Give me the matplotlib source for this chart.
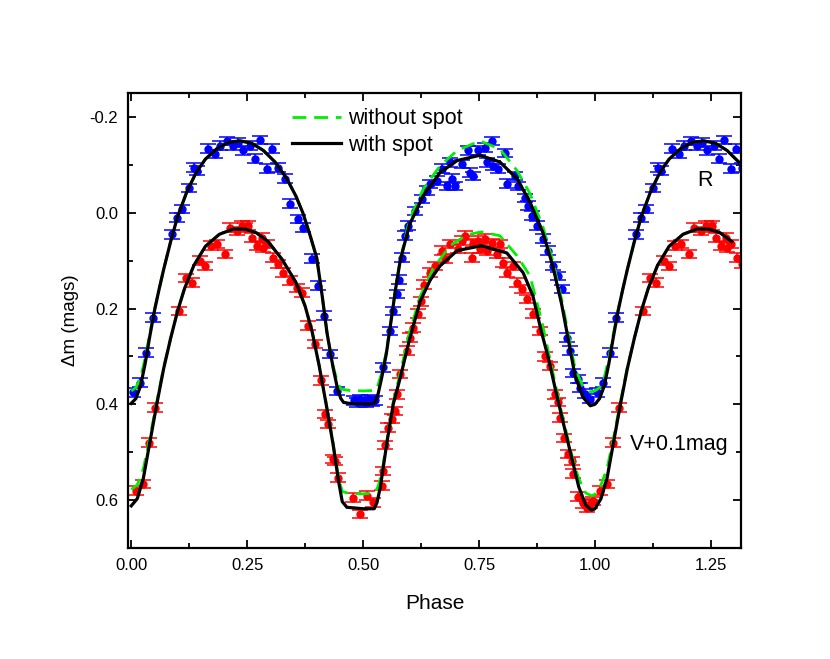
import numpy as np
import matplotlib
matplotlib.use('Agg')
import matplotlib.pyplot as plt
from matplotlib.ticker import MultipleLocator
from matplotlib.lines import Line2D

plt.rcParams['font.family'] = ['Liberation Sans', 'DejaVu Sans']

# ---- model curves, phase 0..1 ----
# R band, with spot
ph_R_spot = [0.000, 0.010, 0.020, 0.030, 0.040, 0.050, 0.060, 0.070, 0.085, 0.100,
             0.120, 0.140, 0.160, 0.185, 0.210, 0.235, 0.260, 0.285, 0.310, 0.335,
             0.355, 0.370, 0.385, 0.400, 0.412, 0.422, 0.435, 0.445, 0.452, 0.458,
             0.470, 0.500, 0.520, 0.526, 0.532, 0.540, 0.550, 0.560, 0.570, 0.580,
             0.600, 0.630, 0.666, 0.703, 0.752, 0.795, 0.832, 0.860, 0.888, 0.909,
             0.928, 0.942, 0.957, 0.974, 0.990, 1.000]
R_spot = [0.398, 0.388, 0.362, 0.315, 0.258, 0.205, 0.160, 0.118, 0.060, 0.008,
          -0.044, -0.084, -0.112, -0.134, -0.147, -0.150, -0.145, -0.130, -0.106, -0.072,
          -0.035, 0.000, 0.045, 0.094, 0.175, 0.250, 0.322, 0.368, 0.388, 0.396,
          0.398, 0.399, 0.399, 0.396, 0.380, 0.345, 0.295, 0.228, 0.160, 0.100,
          0.025, -0.036, -0.084, -0.109, -0.120, -0.106, -0.071, -0.022, 0.042, 0.111,
          0.190, 0.262, 0.340, 0.385, 0.403, 0.400]

# R band, without spot
ph_R_nospot = [0.000, 0.010, 0.020, 0.030, 0.040, 0.050, 0.060, 0.070, 0.085, 0.100,
               0.120, 0.140, 0.160, 0.185, 0.210, 0.235, 0.260, 0.285, 0.310, 0.335,
               0.355, 0.370, 0.385, 0.400, 0.412, 0.422, 0.435, 0.445, 0.452, 0.470,
               0.500, 0.525, 0.532, 0.540, 0.550, 0.560, 0.570, 0.580, 0.600, 0.630,
               0.666, 0.703, 0.752, 0.795, 0.832, 0.860, 0.888, 0.909, 0.928, 0.942,
               0.957, 0.974, 0.990, 1.000]
R_nospot = [0.372, 0.365, 0.345, 0.303, 0.252, 0.202, 0.160, 0.118, 0.060, 0.008,
            -0.044, -0.084, -0.112, -0.134, -0.147, -0.150, -0.145, -0.130, -0.106, -0.072,
            -0.035, 0.000, 0.045, 0.094, 0.175, 0.248, 0.318, 0.355, 0.368, 0.371,
            0.372, 0.371, 0.360, 0.335, 0.290, 0.225, 0.158, 0.098, 0.015, -0.050,
            -0.098, -0.130, -0.150, -0.133, -0.088, -0.040, 0.030, 0.100, 0.180, 0.250,
            0.325, 0.362, 0.374, 0.372]

# V band (+0.1 mag), with spot
ph_V_spot = [0.000, 0.013, 0.026, 0.040, 0.055, 0.070, 0.085, 0.100, 0.115, 0.135,
             0.160, 0.190, 0.220, 0.245, 0.270, 0.295, 0.325, 0.355, 0.375, 0.390,
             0.405, 0.420, 0.435, 0.447, 0.455, 0.465, 0.500, 0.524, 0.530, 0.537,
             0.552, 0.565, 0.580, 0.600, 0.623, 0.645, 0.666, 0.703, 0.755, 0.810,
             0.845, 0.866, 0.885, 0.900, 0.915, 0.930, 0.950, 0.965, 0.980, 0.993,
             1.000]
V_spot = [0.612, 0.597, 0.555, 0.480, 0.400, 0.325, 0.262, 0.205, 0.158, 0.110,
          0.070, 0.045, 0.034, 0.034, 0.042, 0.060, 0.097, 0.145, 0.195, 0.248,
          0.318, 0.398, 0.482, 0.560, 0.603, 0.615, 0.618, 0.618, 0.605, 0.574,
          0.476, 0.400, 0.345, 0.265, 0.185, 0.140, 0.111, 0.079, 0.069, 0.084,
          0.125, 0.173, 0.250, 0.305, 0.370, 0.432, 0.512, 0.572, 0.610, 0.621,
          0.618]

# V band (+0.1 mag), without spot
ph_V_nospot = [0.000, 0.013, 0.026, 0.040, 0.055, 0.070, 0.085, 0.100, 0.115, 0.135,
               0.160, 0.190, 0.220, 0.245, 0.270, 0.295, 0.325, 0.355, 0.375, 0.390,
               0.405, 0.420, 0.435, 0.447, 0.455, 0.470, 0.500, 0.525, 0.532, 0.540,
               0.552, 0.565, 0.580, 0.600, 0.623, 0.651, 0.687, 0.724, 0.755, 0.795,
               0.832, 0.860, 0.885, 0.900, 0.915, 0.930, 0.950, 0.965, 0.980, 0.993,
               1.000]
V_nospot = [0.578, 0.568, 0.535, 0.470, 0.395, 0.322, 0.262, 0.205, 0.158, 0.110,
            0.070, 0.045, 0.034, 0.034, 0.042, 0.060, 0.097, 0.145, 0.195, 0.248,
            0.318, 0.396, 0.478, 0.553, 0.582, 0.586, 0.587, 0.585, 0.572, 0.545,
            0.472, 0.395, 0.335, 0.250, 0.175, 0.117, 0.069, 0.046, 0.040, 0.048,
            0.090, 0.132, 0.225, 0.292, 0.360, 0.425, 0.505, 0.555, 0.585, 0.591,
            0.588]

# ---- observations, phase 0..1 ----
ph_R_obs = [0.004, 0.018, 0.032, 0.046, 0.088, 0.099, 0.110, 0.125, 0.136, 0.142,
            0.166, 0.181, 0.192, 0.207, 0.220, 0.231, 0.241, 0.256, 0.267, 0.278,
            0.293, 0.304, 0.317, 0.332, 0.343, 0.360, 0.371, 0.390, 0.403, 0.416,
            0.429, 0.444, 0.480, 0.487, 0.494, 0.500, 0.507, 0.513, 0.520, 0.526,
            0.543, 0.558, 0.565, 0.573, 0.577, 0.584, 0.590, 0.597, 0.612, 0.627,
            0.638, 0.644, 0.659, 0.670, 0.681, 0.687, 0.692, 0.698, 0.713, 0.726,
            0.731, 0.737, 0.748, 0.763, 0.767, 0.778, 0.780, 0.791, 0.806, 0.810,
            0.828, 0.834, 0.849, 0.856, 0.864, 0.875, 0.888, 0.899, 0.909, 0.920,
            0.929, 0.940, 0.946, 0.953, 0.963, 0.968, 0.978, 0.990]
R_obs = [0.375, 0.355, 0.292, 0.219, 0.045, 0.010, -0.008, -0.052, -0.094, -0.088,
         -0.134, -0.123, -0.140, -0.150, -0.140, -0.146, -0.130, -0.140, -0.113, -0.152,
         -0.092, -0.134, -0.094, -0.071, -0.019, 0.013, 0.031, 0.096, 0.152, 0.215,
         0.295, 0.372, 0.392, 0.396, 0.390, 0.393, 0.397, 0.390, 0.394, 0.392,
         0.323, 0.247, 0.205, 0.170, 0.140, 0.094, 0.048, 0.027, -0.004, -0.029,
         -0.046, -0.060, -0.067, -0.092, -0.056, -0.105, -0.071, -0.056, -0.102, -0.130,
         -0.084, -0.077, -0.130, -0.136, -0.105, -0.150, -0.098, -0.092, -0.125, -0.061,
         -0.077, -0.056, -0.031, -0.015, 0.006, 0.027, 0.054, 0.079, 0.111, 0.132,
         0.159, 0.261, 0.288, 0.335, 0.347, 0.365, 0.378, 0.388]

ph_V_obs = [0.011, 0.026, 0.039, 0.052, 0.104, 0.119, 0.131, 0.149, 0.159, 0.172,
            0.185, 0.203, 0.213, 0.228, 0.239, 0.246, 0.252, 0.261, 0.272, 0.282,
            0.284, 0.293, 0.306, 0.317, 0.328, 0.343, 0.358, 0.369, 0.381, 0.397,
            0.410, 0.418, 0.424, 0.435, 0.440, 0.446, 0.479, 0.494, 0.508, 0.522,
            0.541, 0.543, 0.547, 0.554, 0.562, 0.569, 0.573, 0.580, 0.595, 0.601,
            0.608, 0.619, 0.625, 0.632, 0.644, 0.655, 0.670, 0.677, 0.687, 0.705,
            0.713, 0.720, 0.735, 0.737, 0.748, 0.752, 0.763, 0.767, 0.778, 0.789,
            0.795, 0.802, 0.810, 0.823, 0.832, 0.843, 0.853, 0.866, 0.881, 0.892,
            0.903, 0.914, 0.920, 0.925, 0.933, 0.942, 0.950, 0.953, 0.963, 0.974,
            0.982, 0.989, 0.996]
V_obs = [0.580, 0.566, 0.480, 0.407, 0.205, 0.136, 0.146, 0.100, 0.111, 0.069,
         0.065, 0.086, 0.031, 0.038, 0.027, 0.031, 0.027, 0.052, 0.069, 0.052,
         0.073, 0.065, 0.094, 0.107, 0.125, 0.142, 0.157, 0.167, 0.236, 0.274,
         0.350, 0.420, 0.441, 0.514, 0.518, 0.553, 0.595, 0.629, 0.591, 0.605,
         0.570, 0.539, 0.485, 0.449, 0.430, 0.414, 0.379, 0.337, 0.288, 0.261,
         0.240, 0.211, 0.185, 0.150, 0.125, 0.111, 0.079, 0.096, 0.065, 0.075,
         0.058, 0.048, 0.094, 0.063, 0.058, 0.075, 0.054, 0.079, 0.063, 0.086,
         0.065, 0.104, 0.125, 0.111, 0.146, 0.159, 0.180, 0.211, 0.247, 0.300,
         0.320, 0.379, 0.395, 0.428, 0.470, 0.504, 0.518, 0.545, 0.593, 0.607,
         0.616, 0.608, 0.602]

obs_err = 0.009
phase_max = 1.32
green = '#00ee00'
dash = (0, (5, 2.8))


def extend(ph, mag):
    # repeat the start of the cycle after phase 1
    ph = np.asarray(ph)
    mag = np.asarray(mag)
    sel = (ph > 0) & (ph + 1 <= phase_max) if ph[-1] >= 1.0 else (ph + 1 <= phase_max)
    return np.concatenate([ph, ph[sel] + 1]), np.concatenate([mag, mag[sel]])


fig = plt.figure(figsize=(8.3, 6.59), dpi=100)
ax = fig.add_axes([128 / 830, 1 - 548 / 659, 613 / 830, 455 / 659])

for ph, mag, col in [(ph_R_obs, R_obs, '#0000ff'), (ph_V_obs, V_obs, '#ff0000')]:
    x, y = extend(ph, mag)
    ax.errorbar(x, y, yerr=obs_err, fmt='o', color=col, ms=5, elinewidth=1.1,
                capsize=5.5, capthick=1.1, zorder=2)

for ph, mag in [(ph_R_nospot, R_nospot), (ph_V_nospot, V_nospot)]:
    x, y = extend(ph, mag)
    ax.plot(x, y, color=green, lw=2.0, ls=dash, zorder=3)

for ph, mag in [(ph_R_spot, R_spot), (ph_V_spot, V_spot)]:
    x, y = extend(ph, mag)
    ax.plot(x, y, color='black', lw=2.3, zorder=4)

ax.set_xlim(-0.007, 1.315)
ax.set_ylim(0.70, -0.25)

ax.xaxis.set_major_locator(MultipleLocator(0.25))
ax.xaxis.set_minor_locator(MultipleLocator(0.125))
ax.yaxis.set_major_locator(MultipleLocator(0.2))
ax.yaxis.set_minor_locator(MultipleLocator(0.1))
ax.xaxis.set_major_formatter(plt.FuncFormatter(lambda v, p: '%.2f' % v))
ax.yaxis.set_major_formatter(plt.FuncFormatter(lambda v, p: '%.1f' % (v + 0.0)))

ax.tick_params(which='both', direction='in', top=True, right=True, width=1.3,
               labelsize=12, pad=7)
ax.tick_params(which='major', length=6)
ax.tick_params(which='minor', length=3.5)
for s in ax.spines.values():
    s.set_linewidth(1.6)

ax.set_xlabel('Phase', fontsize=15, labelpad=15)
ax.set_ylabel('\u0394m (mags)', fontsize=13.5, labelpad=8)

ax.text(1.237, -0.067, 'R', fontsize=15.5, ha='center', va='center')
ax.text(1.075, 0.483, 'V+0.1mag', fontsize=15.5, ha='left', va='center')

handles = [Line2D([], [], color=green, lw=2.0, ls=dash),
           Line2D([], [], color='black', lw=2.3)]
ax.legend(handles, ['without spot', 'with spot'], loc='upper left',
          bbox_to_anchor=(0.2675, 0.966), frameon=False, fontsize=15.5,
          handlelength=2.3, handletextpad=0.3, labelspacing=0.25, borderpad=0,
          borderaxespad=0)

fig.savefig('out.png', dpi=100)
